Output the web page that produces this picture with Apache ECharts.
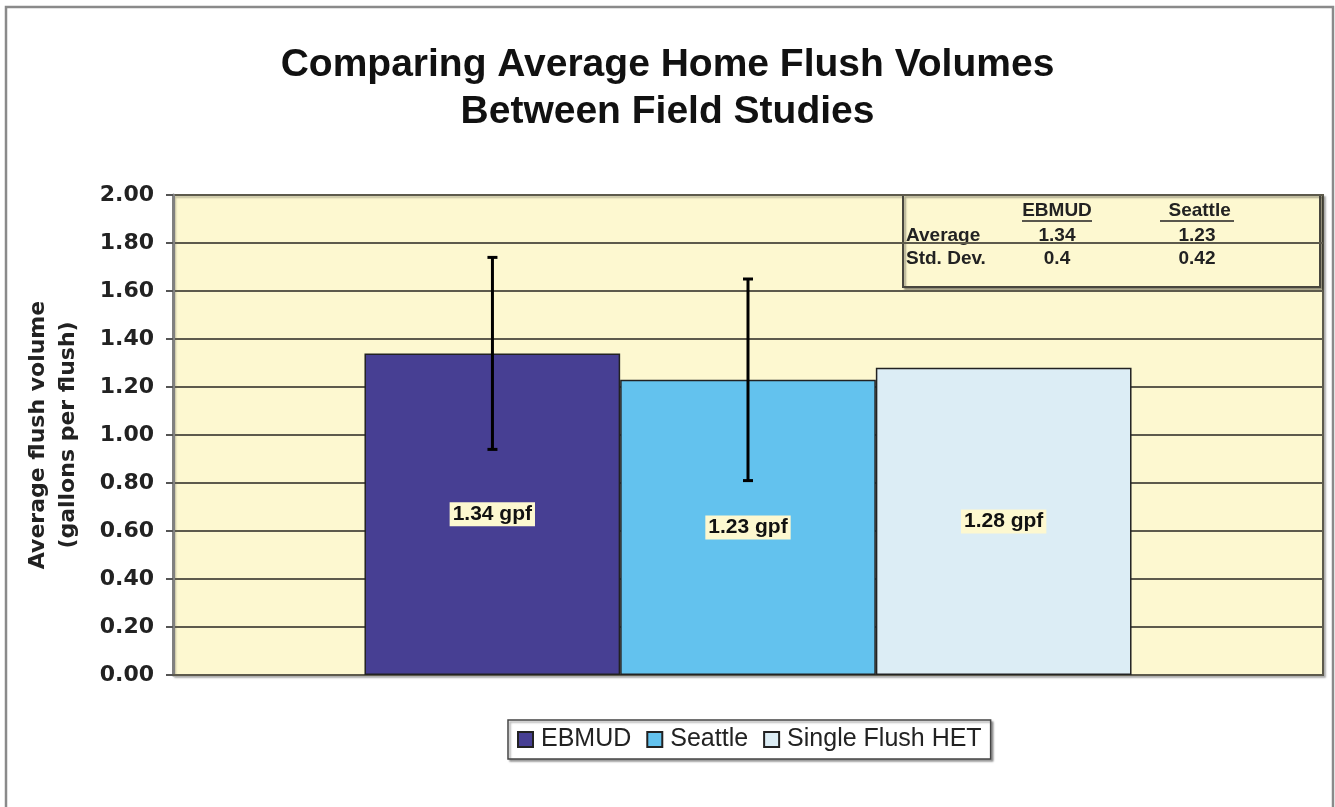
<!doctype html>
<html>
    <head>
        <meta charset="utf-8">
        <title>Comparing Average Home Flush Volumes</title>
        <style>
            html, body { margin: 0; padding: 0; background: #fff; }
            #main { width: 1335px; height: 807px; }
        </style>
    </head>
    <body>
        <div id="main"></div>
        <script src="https://cdn.jsdelivr.net/npm/echarts@6/dist/echarts.min.js"></script>
        <script>
            var seriesNames = ['EBMUD', 'Seattle', 'Single Flush HET'];
            var averages = [1.34, 1.23, 1.28];
            var stdDevs = [0.4, 0.42, null];
            var colors = ['#473f93', '#63c2ee', '#dcedf5'];
            var tableCols = ['EBMUD', 'Seattle'];
            var tableRows = ['Average', 'Std. Dev.'];

            var categoryGap = 1 / 3;
            var plotBg = '#fdf8d0';
            var gridColor = '#5d5a4c';

            var chart = echarts.init(document.getElementById('main'), null, {
                devicePixelRatio: 1
            });

            var barSeries = seriesNames.map(function (name, i) {
                return {
                    name: name,
                    type: 'bar',
                    barGap: '0%',
                    barCategoryGap: (categoryGap * 100).toFixed(1) + '%',
                    data: [averages[i]],
                    itemStyle: {
                        color: colors[i],
                        borderColor: '#222',
                        borderWidth: 1.5
                    },
                    label: {
                        show: true,
                        position: 'inside',
                        formatter: function (p) {
                            return p.value.toFixed(2) + ' gpf';
                        },
                        color: '#111',
                        fontFamily: 'Liberation Sans',
                        fontWeight: 'bold',
                        fontSize: 21,
                        backgroundColor: plotBg,
                        padding: [2, 3, 1, 3]
                    },
                    silent: true
                };
            });

            // error bars: [category, low, high, series index]
            var errData = [];
            averages.forEach(function (v, i) {
                if (stdDevs[i] != null) {
                    errData.push([0, v - stdDevs[i], v + stdDevs[i], i]);
                }
            });

            var errSeries = {
                type: 'custom',
                silent: true,
                data: errData,
                z: 10,
                renderItem: function (params, api) {
                    var base = api.coord([api.value(0), 0]);
                    var bandW = api.size([1, 0])[0];
                    var barW = bandW * (1 - categoryGap) / seriesNames.length;
                    var x = base[0] + (api.value(3) - (seriesNames.length - 1) / 2) * barW;
                    var low = api.coord([api.value(0), api.value(1)])[1];
                    var high = api.coord([api.value(0), api.value(2)])[1];
                    var cap = 5;
                    var style = { stroke: '#000', lineWidth: 3 };
                    return {
                        type: 'group',
                        children: [
                            { type: 'line', shape: { x1: x, y1: low, x2: x, y2: high }, style: style },
                            { type: 'line', shape: { x1: x - cap, y1: low, x2: x + cap, y2: low }, style: style },
                            { type: 'line', shape: { x1: x - cap, y1: high, x2: x + cap, y2: high }, style: style }
                        ]
                    };
                }
            };

            // small stats table in the top right corner
            var tX = 903, tY = 195, tW = 417, tH = 92;
            var colX = [1057, 1197];
            var tableFont = { fontFamily: 'Liberation Sans', fontWeight: 'bold', fontSize: 19, fill: '#222' };
            var tableChildren = [{
                type: 'rect',
                shape: { x: tX, y: tY, width: tW, height: tH },
                style: {
                    fill: plotBg, stroke: '#48463e', lineWidth: 2,
                    shadowColor: 'rgba(0,0,0,0.35)', shadowOffsetX: 2, shadowOffsetY: 2, shadowBlur: 2
                }
            }];
            tableCols.forEach(function (c, j) {
                var label = j === 1 ? ' ' + c : c;
                tableChildren.push({
                    type: 'text',
                    style: Object.assign({ text: label, x: colX[j], y: 211, align: 'center', verticalAlign: 'middle' }, tableFont)
                });
                var halfW = j === 1 ? 37 : 35;
                tableChildren.push({
                    type: 'line',
                    shape: { x1: colX[j] - halfW, y1: 221, x2: colX[j] + halfW, y2: 221 },
                    style: { stroke: '#222', lineWidth: 1.5 }
                });
                tableChildren.push({
                    type: 'text',
                    style: Object.assign({ text: String(averages[j]), x: colX[j], y: 236, align: 'center', verticalAlign: 'middle' }, tableFont)
                });
                tableChildren.push({
                    type: 'text',
                    style: Object.assign({ text: String(stdDevs[j]), x: colX[j], y: 259, align: 'center', verticalAlign: 'middle' }, tableFont)
                });
            });
            tableRows.forEach(function (r, k) {
                tableChildren.push({
                    type: 'text',
                    style: Object.assign({ text: r, x: 906, y: 236 + k * 23, align: 'left', verticalAlign: 'middle' }, tableFont)
                });
            });

            chart.setOption({
                animation: false,
                title: {
                    text: 'Comparing Average Home Flush Volumes\nBetween Field Studies',
                    left: 'center',
                    top: 42,
                    padding: 0,
                    textStyle: {
                        fontFamily: 'Liberation Sans',
                        fontWeight: 'bold',
                        fontSize: 39,
                        lineHeight: 47,
                        color: '#111'
                    }
                },
                legend: {
                    data: seriesNames,
                    left: 508,
                    top: 720,
                    padding: [7, 9, 7, 9],
                    itemWidth: 15,
                    itemHeight: 15,
                    itemGap: 15,
                    icon: 'rect',
                    borderColor: '#444',
                    borderWidth: 1.5,
                    borderRadius: 0,
                    backgroundColor: '#fff',
                    shadowColor: 'rgba(0,0,0,0.35)',
                    shadowOffsetX: 2,
                    shadowOffsetY: 2,
                    shadowBlur: 2,
                    textStyle: {
                        fontFamily: 'Liberation Sans',
                        fontSize: 25,
                        color: '#222',
                        padding: [0, 0, 0, 3]
                    },
                    selectedMode: false
                },
                grid: {
                    left: 173,
                    right: 12,
                    top: 195,
                    bottom: 132,
                    containLabel: false,
                    outerBoundsMode: 'none',
                    show: true,
                    backgroundColor: plotBg,
                    borderColor: gridColor,
                    borderWidth: 2,
                    shadowColor: 'rgba(0,0,0,0.25)',
                    shadowOffsetX: 2,
                    shadowOffsetY: 2,
                    shadowBlur: 2
                },
                xAxis: {
                    type: 'category',
                    data: [''],
                    axisLine: { show: true, lineStyle: { color: gridColor, width: 2 } },
                    axisTick: { show: false },
                    axisLabel: { show: false },
                    splitLine: { show: false }
                },
                yAxis: {
                    type: 'value',
                    min: 0,
                    max: 2,
                    interval: 0.2,
                    name: 'Average flush volume\n(gallons per flush)',
                    nameLocation: 'middle',
                    nameGap: 90,
                    nameTextStyle: {
                        fontFamily: 'DejaVu Sans',
                        fontWeight: 'bold',
                        fontSize: 22,
                        lineHeight: 30,
                        color: '#222'
                    },
                    axisLine: { show: true, lineStyle: { color: '#808080', width: 3 } },
                    axisTick: { show: true, length: 7, lineStyle: { color: '#555', width: 2 } },
                    axisLabel: {
                        margin: 19,
                        fontFamily: 'DejaVu Sans',
                        fontWeight: 'bold',
                        fontSize: 22,
                        color: '#222',
                        formatter: function (v) { return v.toFixed(2); }
                    },
                    splitLine: { show: true, lineStyle: { color: gridColor, width: 2 } }
                },
                graphic: [{
                    type: 'rect',
                    silent: true,
                    shape: { x: 6, y: 7, width: 1327, height: 840 },
                    style: { fill: 'none', stroke: '#8a8a8a', lineWidth: 2.5 }
                }, {
                    type: 'group',
                    silent: true,
                    children: tableChildren
                }],
                series: barSeries.concat([errSeries])
            });

            window.onresize = chart.resize;
        </script>
    </body>
</html>
